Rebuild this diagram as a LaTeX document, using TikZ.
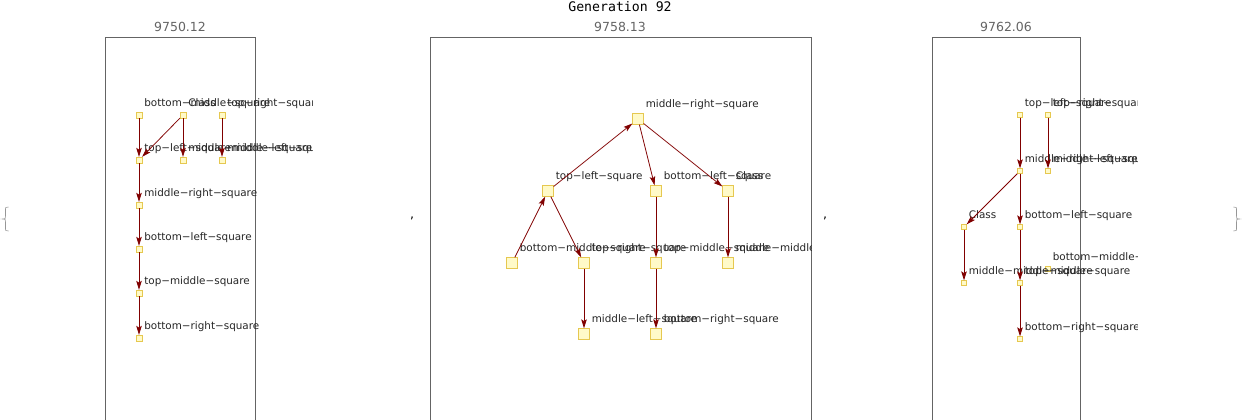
\documentclass[tikz,border=0pt]{standalone}
\usepackage{fontspec}
\setmainfont{DejaVu Sans}
\newfontfamily\gmono{DejaVu Sans Mono}
\usetikzlibrary{arrows.meta}
\definecolor{nodefill}{RGB}{255,250,200}
\definecolor{nodedraw}{RGB}{230,200,80}
\definecolor{edgecol}{RGB}{128,0,0}
\definecolor{framecol}{RGB}{100,100,100}
\definecolor{titlecol}{RGB}{100,100,100}
\definecolor{bracecol}{RGB}{150,150,150}
\newcommand{\lab}[2]{\node[lbl] (#1-l) at ([shift={(2pt,5.5pt)}]#1.north east) {#2};}
\begin{document}
\begin{tikzpicture}[x=1pt,y=-1pt,
 vs/.style={draw=nodedraw, fill=nodefill, line width=0.7pt, minimum size=6.3pt, inner sep=0pt, outer sep=0pt},
 vm/.style={vs, minimum size=11.3pt},
 vr/.style={vs, minimum size=5.3pt},
 lbl/.style={font=\fontsize{10.4}{12}\selectfont, text=black!85, inner sep=0pt, anchor=base west},
 edge/.style={draw=edgecol, line width=0.75pt, -{Stealth[length=9pt,width=5.5pt,inset=1.8pt]}},
 frame/.style={draw=framecol, line width=0.7pt},
 ttl/.style={font=\fontsize{12.5}{14}\selectfont, text=titlecol},
 brace/.style={draw=bracecol, line width=0.6pt},
 sep/.style={font=\fontsize{12.5}{14}\selectfont, text=black}
]
\useasboundingbox (0,0) rectangle (1242,420);

% header
\node[font=\gmono\fontsize{13.2}{15}\selectfont] (gen) at (620,7) {Generation 92};
\node[ttl] (t1) at (180,27) {9750.12};
\node[ttl] (t2) at (620,27) {9758.13};
\node[ttl] (t3) at (1006,27) {9762.06};

% frames
\draw[frame] (105,37) rectangle (255,422);
\draw[frame] (430,37) rectangle (811,422);
\draw[frame] (932,37) rectangle (1080,422);

% braces and commas
\draw[brace] (8.5,207) .. controls (5.5,207) .. (5.5,211) -- (5.5,216) .. controls (5.5,219) .. (2.5,219) .. controls (5.5,219) .. (5.5,222) -- (5.5,227) .. controls (5.5,231) .. (8.5,231);
\draw[brace] (1233.5,207) .. controls (1236.5,207) .. (1236.5,211) -- (1236.5,216) .. controls (1236.5,219) .. (1239.5,219) .. controls (1236.5,219) .. (1236.5,222) -- (1236.5,227) .. controls (1236.5,231) .. (1233.5,231);
\node[sep] (cm1) at (412,218) {,};
\node[sep] (cm2) at (825,218) {,};

% ---------- left panel ----------
\begin{scope}
\clip (100,40) rectangle (312,420);
\node[vs] (aBM) at (139,115) {};
\node[vs] (aCl) at (183,115) {};
\node[vs] (aTR) at (222,115) {};
\node[vs] (aTL) at (139,160) {};
\node[vs] (aMM) at (183,160) {};
\node[vs] (aML) at (222,160) {};
\node[vs] (aMR) at (139,205) {};
\node[vs] (aBL) at (139,249) {};
\node[vs] (aTM) at (139,293) {};
\node[vs] (aBR) at (139,338) {};
\lab{aBM}{bottom−middle−square}
\lab{aCl}{Class}
\lab{aTR}{top−right−square}
\lab{aTL}{top−left−square}
\lab{aMM}{middle−middle−square}
\lab{aML}{middle−left−square}
\lab{aMR}{middle−right−square}
\lab{aBL}{bottom−left−square}
\lab{aTM}{top−middle−square}
\lab{aBR}{bottom−right−square}
\draw[edge] (aBM) -- (aTL);
\draw[edge] (aCl) -- (aTL);
\draw[edge] (aCl) -- (aMM);
\draw[edge] (aTR) -- (aML);
\draw[edge] (aTL) -- (aMR);
\draw[edge] (aMR) -- (aBL);
\draw[edge] (aBL) -- (aTM);
\draw[edge] (aTM) -- (aBR);
\end{scope}

% ---------- middle panel ----------
\begin{scope}
\clip (430,40) rectangle (811,420);
\node[vm] (bMR) at (638,119) {};
\node[vm] (bTL) at (548,191) {};
\node[vm] (bBL) at (656,191) {};
\node[vm] (bCl) at (728,191) {};
\node[vm] (bBM) at (512,263) {};
\node[vm] (bTR) at (584,263) {};
\node[vm] (bTM) at (656,263) {};
\node[vm] (bMM) at (728,263) {};
\node[vm] (bML) at (584,334) {};
\node[vm] (bBR) at (656,334) {};
\lab{bMR}{middle−right−square}
\lab{bTL}{top−left−square}
\lab{bBL}{bottom−left−square}
\lab{bCl}{Class}
\lab{bBM}{bottom−middle−square}
\lab{bTR}{top−right−square}
\lab{bTM}{top−middle−square}
\lab{bMM}{middle−middle−square}
\lab{bML}{middle−left−square}
\lab{bBR}{bottom−right−square}
\draw[edge] (bBM) -- (bTL);
\draw[edge] (bTL) -- (bMR);
\draw[edge] (bTL) -- (bTR);
\draw[edge] (bMR) -- (bBL);
\draw[edge] (bMR) -- (bCl);
\draw[edge] (bBL) -- (bTM);
\draw[edge] (bCl) -- (bMM);
\draw[edge] (bTR) -- (bML);
\draw[edge] (bTM) -- (bBR);
\end{scope}

% ---------- right panel ----------
\begin{scope}
\clip (932,40) rectangle (1137,420);
\node[vr] (cTL) at (1020,115) {};
\node[vr] (cTR) at (1048,115) {};
\node[vr] (cMR) at (1020,171) {};
\node[vr] (cML) at (1048,171) {};
\node[vr] (cCl) at (964,227) {};
\node[vr] (cBL) at (1020,227) {};
\node[vr] (cBM) at (1048,269) {};
\node[vr] (cMM) at (964,283) {};
\node[vr] (cTM) at (1020,283) {};
\node[vr] (cBR) at (1020,339) {};
\lab{cTL}{top−left−square}
\lab{cTR}{top−right−square}
\lab{cMR}{middle−right−square}
\lab{cML}{middle−left−square}
\lab{cCl}{Class}
\lab{cBL}{bottom−left−square}
\lab{cBM}{bottom−middle−square}
\lab{cMM}{middle−middle−square}
\lab{cTM}{top−middle−square}
\lab{cBR}{bottom−right−square}
\draw[edge] (cTL) -- (cMR);
\draw[edge] (cTR) -- (cML);
\draw[edge] (cMR) -- (cCl);
\draw[edge] (cMR) -- (cBL);
\draw[edge] (cBL) -- (cTM);
\draw[edge] (cTM) -- (cBR);
\draw[edge] (cCl) -- (cMM);
\end{scope}
\end{tikzpicture}
\end{document}
